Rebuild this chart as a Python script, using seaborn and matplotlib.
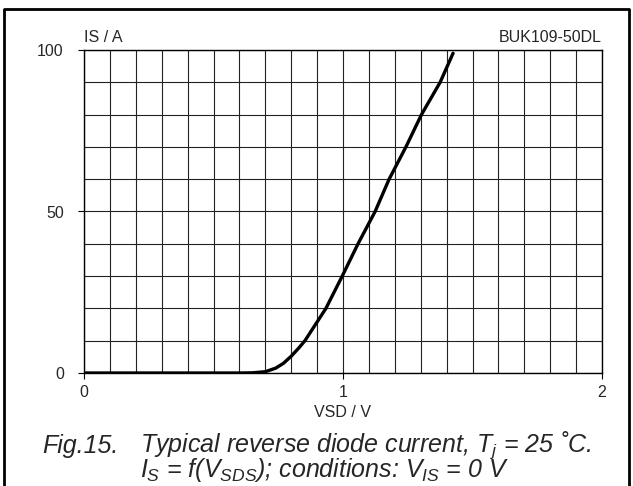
import matplotlib
matplotlib.use("Agg")
import matplotlib.pyplot as plt
import seaborn as sns
import pandas as pd
from matplotlib.lines import Line2D

# data
vsd = [0.0, 0.3, 0.6, 0.65, 0.70, 0.74, 0.77, 0.80, 0.83, 0.853, 0.934, 0.997, 1.058, 1.124, 1.178, 1.243, 1.303, 1.375, 1.425]
i_s = [0.0, 0.0, 0.0, 0.05, 0.4, 1.5, 3.0, 5.2, 7.8, 10.0, 20.0, 30.0, 40.0, 50.0, 60.0, 70.0, 80.0, 90.0, 99.0]
x_ticks = [0, 1, 2]
y_ticks = [0, 50, 100]

sns.set_theme(style="white")
plt.rcParams['font.family'] = ['Liberation Sans', 'DejaVu Sans']
plt.rcParams['mathtext.fontset'] = 'custom'
plt.rcParams['mathtext.it'] = 'Liberation Sans:italic'
plt.rcParams['mathtext.rm'] = 'Liberation Sans'
plt.rcParams['mathtext.default'] = 'it'

df = pd.DataFrame({"VSD": vsd, "IS": i_s})

fig = plt.figure(figsize=(6.33, 4.86), dpi=100)
ax = fig.add_axes([84/633, 1-373/486, (602-84)/633, (373-50)/486])

sns.lineplot(data=df, x="VSD", y="IS", ax=ax, color="black", linewidth=2.4, zorder=5)

ax.set_xlim(0, 2)
ax.set_ylim(0, 100)
ax.set_xticks(x_ticks)
ax.set_yticks(y_ticks)
ax.set_xticklabels([str(t) for t in x_ticks], fontsize=11.5)
ax.set_yticklabels([str(t) for t in y_ticks], fontsize=11.5)
ax.set_xticks([i/10 for i in range(21)], minor=True)
ax.set_yticks([i*10 for i in range(11)], minor=True)
ax.grid(which="both", color="#222222", linewidth=0.8)
ax.tick_params(axis="x", which="major", direction="out", length=4.5, width=0.8, color="black", pad=4,
               bottom=True)
ax.tick_params(axis="y", which="major", direction="out", length=4.5, width=0.8, color="black", pad=10,
               left=True)
ax.tick_params(which="minor", length=0, bottom=False, left=False)
ax.set_xlabel("")
ax.set_ylabel("")
for s in ax.spines.values():
    s.set_color("black")
    s.set_linewidth(1.0)

fig.text(343/633, 1-412/486, "VSD / V", ha="center", va="center", fontsize=11.5)
fig.text(84/633, 1-38/486, "IS / A", ha="left", va="center", fontsize=11.5)
fig.text(602/633, 1-38/486, "BUK109-50DL", ha="right", va="center", fontsize=11.5)

fig.text(42/633, 1-453/486, "Fig.15.", ha="left", va="baseline", fontsize=18, style="italic")
fig.text(140/633, 1-477/486,
         "Typical reverse diode current, $T_j$ = 25 ˚C.\n"
         "$I_S$ = f($V_{SDS}$); conditions: $V_{IS}$ = 0 V",
         ha="left", va="baseline", fontsize=18, style="italic",
         linespacing=0.77, multialignment="left")

# outer frame (left, top, right)
fig.add_artist(Line2D([4/633, 4/633, 629/633, 629/633], [0, 1-9/486, 1-9/486, 0],
                      transform=fig.transFigure, color="black", linewidth=2.0))

fig.savefig("out.png", dpi=100)
